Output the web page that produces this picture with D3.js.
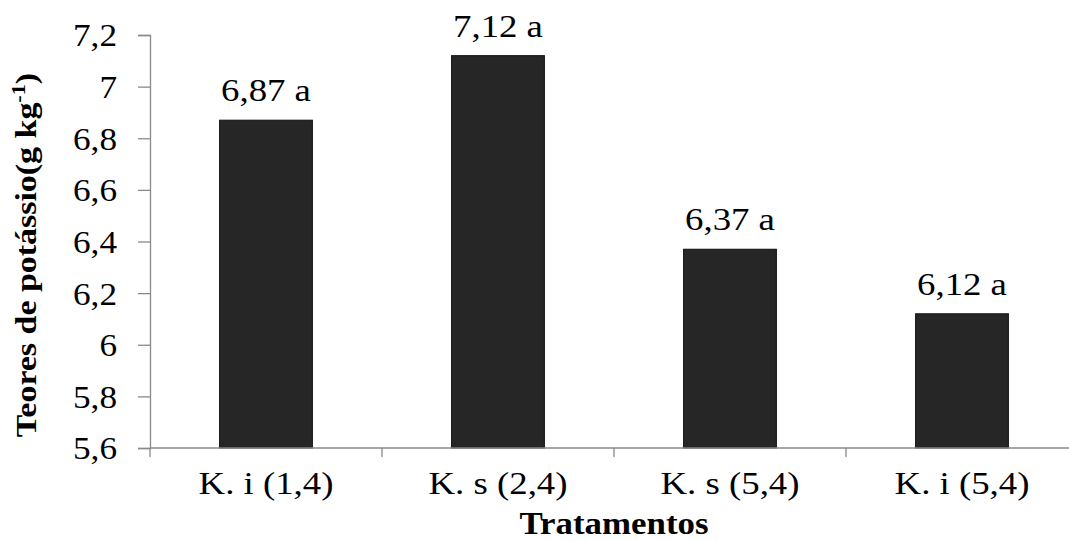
<!DOCTYPE html>
<html><head><meta charset="utf-8">
<script src="https://cdn.jsdelivr.net/npm/d3@7"></script>
<style>body{margin:0;background:#fff}svg{display:block}</style>
</head><body><svg id="c" width="1069" height="541"></svg>
<script>
const categories = ["K. i (1,4)", "K. s (2,4)", "K. s (5,4)", "K. i (5,4)"];
const values = [6.87, 7.12, 6.37, 6.12];
const letters = ["a", "a", "a", "a"];
const yTicks = [5.6, 5.8, 6.0, 6.2, 6.4, 6.6, 6.8, 7.0, 7.2];

(function () {
const FONT = "Liberation Serif";
const SX = 1.15;
const svg = d3.select("#c");
const mL = 150, mR = 1078, mT = 35, mB = 448;
const x = d3.scaleBand().domain(categories).range([mL, mR]).paddingInner(0.6).paddingOuter(0.3);
const y = d3.scaleLinear().domain([5.6, 7.2]).range([mB, mT]);
const fmt = v => String(+v.toFixed(2)).replace(".", ",");
const axisColor = "#898989";

// y axis
const ya = svg.append("g").attr("transform", `translate(${mL},0)`)
  .call(d3.axisLeft(y).tickValues(yTicks).tickSize(12).tickPadding(21).tickFormat(fmt));
ya.select(".domain").attr("stroke", axisColor).attr("stroke-width", 1.3);
ya.selectAll(".tick line").attr("stroke", axisColor).attr("stroke-width", 1.3);
ya.selectAll(".tick text").attr("font-size", 32).style("font-family", FONT).attr("fill", "#000")
  .attr("dy", "0.34em").attr("x", 0).attr("transform", `translate(-33,0) scale(1.1,1)`);

// bars
svg.append("g").selectAll("rect").data(values).join("rect")
  .attr("x", (d, i) => x(categories[i]))
  .attr("y", d => y(d))
  .attr("width", x.bandwidth())
  .attr("height", d => y(5.6) - y(d))
  .attr("fill", "#262626").attr("stroke", "#111").attr("stroke-width", 1);

// x axis with ticks at band boundaries
const xa = svg.append("g").attr("transform", `translate(0,${mB})`);
xa.append("line").attr("x1", mL).attr("x2", mR).attr("stroke", axisColor).attr("stroke-width", 1.3);
const bounds = categories.map(c => x(c) - x.step() * x.paddingOuter());
bounds.push(mR);
xa.selectAll("line.t").data(bounds).join("line").attr("class", "t")
  .attr("x1", d => d).attr("x2", d => d).attr("y1", 0).attr("y2", 9)
  .attr("stroke", axisColor).attr("stroke-width", 1.3);
xa.selectAll("text").data(categories).join("text")
  .attr("transform", d => `translate(${x(d) + x.bandwidth() / 2},46) scale(${SX},1)`)
  .style("font-family", FONT)
  .attr("text-anchor", "middle").attr("font-size", 32).text(d => d);

// value labels
svg.append("g").selectAll("text").data(values).join("text")
  .attr("transform", (d, i) => `translate(${x(categories[i]) + x.bandwidth() / 2},${y(d) - 19}) scale(${SX},1)`)
  .style("font-family", FONT).style("white-space", "pre")
  .attr("text-anchor", "middle").attr("font-size", 32)
  .text((d, i) => fmt(d) + " " + letters[i]);

// axis titles
svg.append("text").attr("transform", "translate(614,534) scale(1.125,1)").attr("text-anchor", "middle")
  .style("font-family", FONT)
  .attr("font-size", 31).attr("font-weight", "bold").text("Tratamentos");
const yt = svg.append("text").attr("transform", "translate(36,255) rotate(-90) scale(1.17,1)")
  .style("font-family", FONT)
  .attr("text-anchor", "middle").attr("font-size", 29).attr("font-weight", "bold");
yt.append("tspan").text("Teores de potássio(g kg");
yt.append("tspan").attr("dy", -11).attr("font-size", 19).text("-1");
yt.append("tspan").attr("dy", 11).text(")");
})();
</script></body></html>
